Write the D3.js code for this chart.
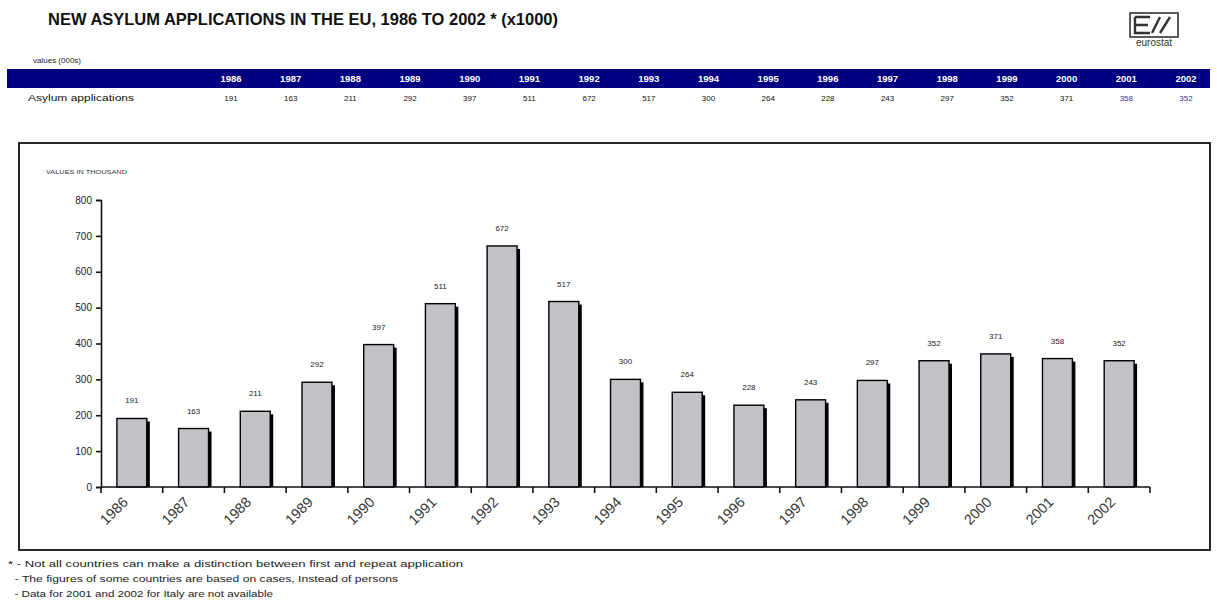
<!DOCTYPE html>
<html>
<head>
<meta charset="utf-8">
<script src="https://cdn.jsdelivr.net/npm/d3@7"></script>
<style>
  body { margin: 0; background: #fff; }
  svg { display: block; }
</style>
</head>
<body>
<script>
const WIDTH = 1217;
const HEIGHT = 615;
const FONT = '"Liberation Sans", Arial, sans-serif';

const years = ['1986', '1987', '1988', '1989', '1990', '1991', '1992', '1993', '1994',
  '1995', '1996', '1997', '1998', '1999', '2000', '2001', '2002'];
const applications = [191, 163, 211, 292, 397, 511, 672, 517, 300, 264, 228, 243, 297, 352, 371, 358, 352];
const provisionalYears = ['2001', '2002'];
const yTicks = [0, 100, 200, 300, 400, 500, 600, 700, 800];
const footnotes = [
  '* - Not all countries can make a distinction between first and repeat application',
  '  - The figures of some countries are based on cases, Instead of persons',
  '  - Data for 2001 and 2002 for Italy are not available'
];
const footnoteWidths = [455, 390, 265];

const data = years.map((y, i) => ({ year: y, value: applications[i] }));

const svg = d3.select('body').append('svg')
  .attr('width', WIDTH)
  .attr('height', HEIGHT)
  .attr('viewBox', `0 0 ${WIDTH} ${HEIGHT}`);

function addText(x, y, text, opts = {}) {
  const { size = 10, weight = 400, fill = '#111', anchor = 'start' } = opts;
  return svg.append('text')
    .attr('x', x).attr('y', y)
    .attr('fill', fill)
    .attr('font-size', size)
    .attr('font-weight', weight)
    .attr('font-family', FONT)
    .attr('text-anchor', anchor)
    .text(text);
}

// title
addText(48, 25, 'NEW ASYLUM APPLICATIONS IN THE EU, 1986 TO 2002 * (x1000)', { size: 16.5, weight: 700 })
  .attr('textLength', 510).attr('lengthAdjust', 'spacingAndGlyphs');

// eurostat logo
const logo = svg.append('g').attr('transform', 'translate(1130,13)');
logo.append('rect').attr('width', 48).attr('height', 24)
  .attr('fill', '#fff').attr('stroke', '#333').attr('stroke-width', 1.6);
logo.append('path')
  .attr('d', 'M5,4 H20 M5,4 V20 H20 M5,12 H18 M22,20 L30,4 M30,20 L40,4')
  .attr('fill', 'none').attr('stroke', '#333').attr('stroke-width', 2.4);
logo.append('text').attr('x', 24).attr('y', 33)
  .attr('text-anchor', 'middle').attr('font-size', 10).attr('font-family', FONT)
  .attr('fill', '#333').text('eurostat');

// data table
addText(33, 63, 'values (000s)', { size: 8, fill: '#222' });
svg.append('rect').attr('x', 7).attr('y', 69).attr('width', 1203).attr('height', 19)
  .attr('fill', '#000080');
const colX = d3.scalePoint().domain(years).range([231, 1186]);
svg.append('g').selectAll('text.hdr').data(data).join('text')
  .attr('x', d => colX(d.year)).attr('y', 82)
  .attr('text-anchor', 'middle').attr('font-size', 9.5).attr('font-weight', 700)
  .attr('font-family', FONT).attr('fill', '#fff').text(d => d.year);
addText(28, 101, 'Asylum applications', { size: 9, fill: '#111' })
  .attr('textLength', 106).attr('lengthAdjust', 'spacingAndGlyphs');
svg.append('g').selectAll('text.val').data(data).join('text')
  .attr('x', d => colX(d.year)).attr('y', 101)
  .attr('text-anchor', 'middle').attr('font-size', 8)
  .attr('font-family', FONT)
  .attr('fill', d => provisionalYears.includes(d.year) ? '#333399' : '#111')
  .text(d => d.value);

// chart frame
svg.append('rect').attr('x', 19).attr('y', 143).attr('width', 1191).attr('height', 407)
  .attr('fill', '#fff').attr('stroke', '#111').attr('stroke-width', 1.8);
addText(46, 174, 'VALUES IN THOUSAND', { size: 5.5, fill: '#333' })
  .attr('textLength', 81).attr('lengthAdjust', 'spacingAndGlyphs');

const x = d3.scaleBand().domain(years).range([101, 1150]).paddingInner(0.515).paddingOuter(0.2575);
const y = d3.scaleLinear().domain([0, 800]).range([487, 200]);

// bars: shadow then body
const bars = svg.append('g');
bars.selectAll('rect.shadow').data(data).join('rect')
  .attr('x', d => x(d.year) + 3)
  .attr('y', d => y(d.value) + 3)
  .attr('width', x.bandwidth())
  .attr('height', d => y(0) - y(d.value) - 3)
  .attr('fill', '#000');
bars.selectAll('rect.bar').data(data).join('rect')
  .attr('x', d => x(d.year))
  .attr('y', d => y(d.value))
  .attr('width', x.bandwidth())
  .attr('height', d => y(0) - y(d.value))
  .attr('fill', '#c2c1c6')
  .attr('stroke', '#000')
  .attr('stroke-width', 1.4);

// value labels
svg.append('g').selectAll('text').data(data).join('text')
  .attr('x', d => x(d.year) + x.bandwidth() / 2)
  .attr('y', d => y(d.value) - 15)
  .attr('text-anchor', 'middle')
  .attr('font-size', 8)
  .attr('font-family', FONT)
  .attr('fill', '#222')
  .text(d => d.value);

// y axis
const yAxis = svg.append('g').attr('transform', 'translate(101,0)')
  .call(d3.axisLeft(y).tickValues(yTicks).tickSize(5).tickPadding(4));
yAxis.select('.domain').attr('stroke', '#111').attr('stroke-width', 1.6);
yAxis.selectAll('.tick line').attr('stroke', '#111').attr('stroke-width', 1.6);
yAxis.selectAll('.tick text').attr('font-size', 10).attr('font-family', FONT).attr('fill', '#222');

// x axis with ticks at category boundaries
const step = x.step();
const bounds = d3.range(years.length + 1).map(i => 101 + i * step);
const xg = svg.append('g');
xg.append('line').attr('x1', 101).attr('x2', 1150).attr('y1', 487).attr('y2', 487)
  .attr('stroke', '#111').attr('stroke-width', 1.6);
xg.selectAll('line.tick').data(bounds).join('line')
  .attr('x1', d => d).attr('x2', d => d).attr('y1', 487).attr('y2', 493)
  .attr('stroke', '#111').attr('stroke-width', 1.6);
xg.selectAll('text').data(years).join('text')
  .attr('transform', d => `translate(${x(d) + x.bandwidth() / 2 - 3},${503}) rotate(-45)`)
  .attr('text-anchor', 'end')
  .attr('font-size', 14.5)
  .attr('font-family', FONT)
  .attr('fill', '#3a3a3a')
  .text(d => d);

// footnotes
footnotes.forEach((f, i) => {
  addText(8, 567 + i * 15, f, { size: 9.5, fill: '#222' })
    .attr('xml:space', 'preserve')
    .attr('textLength', footnoteWidths[i])
    .attr('lengthAdjust', 'spacingAndGlyphs');
});
</script>
</body>
</html>
